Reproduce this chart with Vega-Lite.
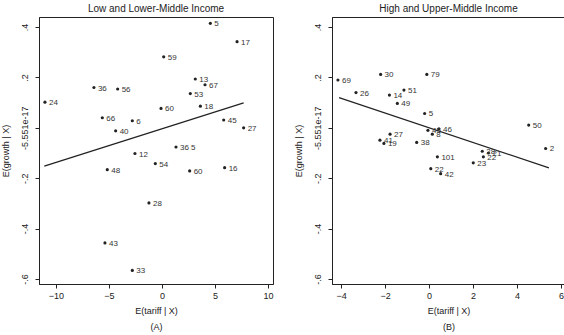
{
  "$schema": "https://vega.github.io/schema/vega-lite/v6.json",
  "background": "white",
  "padding": {"left": 0, "top": 3, "right": 0, "bottom": 0},
  "spacing": 19,
  "config": {
    "font": "Liberation Sans",
    "view": {"stroke": "#222", "strokeWidth": 1},
    "axis": {"grid": false, "domainColor": "#222", "tickColor": "#222", "labelColor": "#222", "titleColor": "#222", "labelFont": "Liberation Sans", "titleFont": "Liberation Sans", "labelFontSize": 9, "titleFontSize": 9, "titleFontWeight": "normal", "tickSize": 4},
    "title": {"font": "Liberation Sans", "fontSize": 10, "fontWeight": "normal", "color": "#222", "offset": 3}
  },
  "datasets": {
    "pts": [
      {"panel": "A", "x": 4.56, "y": 0.415, "id": "5"},
      {"panel": "A", "x": 7.08, "y": 0.342, "id": "17"},
      {"panel": "A", "x": 0.16, "y": 0.282, "id": "59"},
      {"panel": "A", "x": 3.14, "y": 0.194, "id": "13"},
      {"panel": "A", "x": 4.06, "y": 0.171, "id": "67"},
      {"panel": "A", "x": 2.67, "y": 0.136, "id": "53"},
      {"panel": "A", "x": -0.09, "y": 0.077, "id": "60"},
      {"panel": "A", "x": 3.62, "y": 0.086, "id": "18"},
      {"panel": "A", "x": 5.82, "y": 0.031, "id": "45"},
      {"panel": "A", "x": 7.7, "y": 0.0, "id": "27"},
      {"panel": "A", "x": 1.32, "y": -0.076, "id": "36 5"},
      {"panel": "A", "x": -6.42, "y": 0.16, "id": "36"},
      {"panel": "A", "x": -4.18, "y": 0.154, "id": "56"},
      {"panel": "A", "x": -11.04, "y": 0.102, "id": "24"},
      {"panel": "A", "x": -5.63, "y": 0.04, "id": "66"},
      {"panel": "A", "x": -2.8, "y": 0.028, "id": "6"},
      {"panel": "A", "x": -4.37, "y": -0.012, "id": "40"},
      {"panel": "A", "x": -2.55, "y": -0.102, "id": "12"},
      {"panel": "A", "x": -0.63, "y": -0.142, "id": "54"},
      {"panel": "A", "x": -5.16, "y": -0.166, "id": "48"},
      {"panel": "A", "x": 2.61, "y": -0.171, "id": "60"},
      {"panel": "A", "x": 5.91, "y": -0.158, "id": "16"},
      {"panel": "A", "x": -1.23, "y": -0.298, "id": "28"},
      {"panel": "A", "x": -5.38, "y": -0.457, "id": "43"},
      {"panel": "A", "x": -2.8, "y": -0.566, "id": "33"},
      {"panel": "B", "x": -4.14, "y": 0.19, "id": "69"},
      {"panel": "B", "x": -3.32, "y": 0.14, "id": "26"},
      {"panel": "B", "x": -2.2, "y": 0.212, "id": "30"},
      {"panel": "B", "x": -0.1, "y": 0.212, "id": "79"},
      {"panel": "B", "x": -1.14, "y": 0.15, "id": "51"},
      {"panel": "B", "x": -1.8, "y": 0.13, "id": "14"},
      {"panel": "B", "x": -1.44, "y": 0.097, "id": "49"},
      {"panel": "B", "x": -0.2, "y": 0.057, "id": "5"},
      {"panel": "B", "x": 4.53, "y": 0.011, "id": "50"},
      {"panel": "B", "x": 5.3, "y": -0.082, "id": "2"},
      {"panel": "B", "x": -1.77, "y": -0.025, "id": "27"},
      {"panel": "B", "x": -2.23, "y": -0.049, "id": "41"},
      {"panel": "B", "x": -2.05, "y": -0.062, "id": "19"},
      {"panel": "B", "x": -0.56, "y": -0.058, "id": "38"},
      {"panel": "B", "x": -0.05, "y": -0.01, "id": "45"},
      {"panel": "B", "x": 0.15, "y": -0.025, "id": "8"},
      {"panel": "B", "x": 0.45, "y": -0.004, "id": "46"},
      {"panel": "B", "x": 0.38, "y": -0.115, "id": "101"},
      {"panel": "B", "x": 2.42, "y": -0.093, "id": "28"},
      {"panel": "B", "x": 2.7, "y": -0.1, "id": "21"},
      {"panel": "B", "x": 2.47, "y": -0.115, "id": "22"},
      {"panel": "B", "x": 2.01, "y": -0.139, "id": "23"},
      {"panel": "B", "x": 0.08, "y": -0.162, "id": "22"},
      {"panel": "B", "x": 0.53, "y": -0.182, "id": "42"}
    ],
    "fit": [
      {"panel": "A", "x": -11.1, "y": -0.152},
      {"panel": "A", "x": 7.7, "y": 0.099},
      {"panel": "B", "x": -4.09, "y": 0.12},
      {"panel": "B", "x": 5.45, "y": -0.159}
    ]
  },
  "hconcat": [
    {
      "title": "Low and Lower-Middle Income",
      "width": 234,
      "height": 267,
      "layer": [
        {
          "data": {"name": "fit"},
          "transform": [{"filter": "datum.panel === 'A'"}],
          "mark": {"type": "line", "color": "#222", "strokeWidth": 1.2},
          "encoding": {
            "x": {"field": "x", "type": "quantitative", "scale": {"domain": [-11.6, 10.47], "nice": false, "zero": false}, "axis": {"values": [-10, -5, 0, 5, 10], "title": ["E(tariff | X)", "(A)"], "titleLineHeight": 16, "titlePadding": 6, "labelPadding": 3}},
            "y": {"field": "y", "type": "quantitative", "scale": {"domain": [-0.62, 0.44], "nice": false, "zero": false}, "axis": {"values": [-0.6, -0.4, -0.2, 0, 0.2, 0.4], "labelAngle": 270, "labelAlign": "center", "labelBaseline": "bottom", "labelPadding": 6, "labelExpr": "datum.value > 0.3 ? '.4' : datum.value > 0.1 ? '.2' : datum.value > -0.1 ? '-5.551e-17' : datum.value > -0.3 ? '-.2' : datum.value > -0.5 ? '-.4' : '-.6'", "title": "E(growth | X)", "titlePadding": 10}}
          }
        },
        {
          "data": {"name": "pts"},
          "transform": [{"filter": "datum.panel === 'A'"}],
          "mark": {"type": "point", "shape": "circle", "filled": true, "size": 10, "color": "#222", "opacity": 1},
          "encoding": {
            "x": {"field": "x", "type": "quantitative"},
            "y": {"field": "y", "type": "quantitative"}
          }
        },
        {
          "data": {"name": "pts"},
          "transform": [{"filter": "datum.panel === 'A'"}],
          "mark": {"type": "text", "align": "left", "baseline": "middle", "dx": 4, "dy": 1, "fontSize": 8, "color": "#333"},
          "encoding": {
            "x": {"field": "x", "type": "quantitative"},
            "y": {"field": "y", "type": "quantitative"},
            "text": {"field": "id"}
          }
        }
      ]
    },
    {
      "title": "High and Upper-Middle Income",
      "width": 233,
      "height": 267,
      "layer": [
        {
          "data": {"name": "fit"},
          "transform": [{"filter": "datum.panel === 'B'"}],
          "mark": {"type": "line", "color": "#222", "strokeWidth": 1.2},
          "encoding": {
            "x": {"field": "x", "type": "quantitative", "scale": {"domain": [-4.41, 6.18], "nice": false, "zero": false}, "axis": {"values": [-4, -2, 0, 2, 4, 6], "title": ["E(tariff | X)", "(B)"], "titleLineHeight": 16, "titlePadding": 6, "labelPadding": 3}},
            "y": {"field": "y", "type": "quantitative", "scale": {"domain": [-0.62, 0.44], "nice": false, "zero": false}, "axis": {"values": [-0.6, -0.4, -0.2, 0, 0.2, 0.4], "labelAngle": 270, "labelAlign": "center", "labelBaseline": "bottom", "labelPadding": 6, "labelExpr": "datum.value > 0.3 ? '.4' : datum.value > 0.1 ? '.2' : datum.value > -0.1 ? '-5.551e-17' : datum.value > -0.3 ? '-.2' : datum.value > -0.5 ? '-.4' : '-.6'", "title": "E(growth | X)", "titlePadding": 10}}
          }
        },
        {
          "data": {"name": "pts"},
          "transform": [{"filter": "datum.panel === 'B'"}],
          "mark": {"type": "point", "shape": "circle", "filled": true, "size": 10, "color": "#222", "opacity": 1},
          "encoding": {
            "x": {"field": "x", "type": "quantitative"},
            "y": {"field": "y", "type": "quantitative"}
          }
        },
        {
          "data": {"name": "pts"},
          "transform": [{"filter": "datum.panel === 'B'"}],
          "mark": {"type": "text", "align": "left", "baseline": "middle", "dx": 4, "dy": 1, "fontSize": 8, "color": "#333"},
          "encoding": {
            "x": {"field": "x", "type": "quantitative"},
            "y": {"field": "y", "type": "quantitative"},
            "text": {"field": "id"}
          }
        }
      ]
    }
  ]
}
